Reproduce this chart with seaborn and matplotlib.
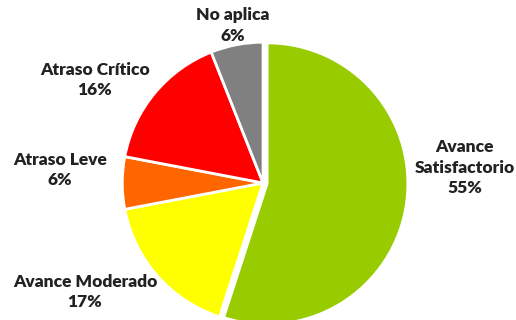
import matplotlib
matplotlib.use("Agg")
import matplotlib.pyplot as plt
import seaborn as sns

# data
categories = ["Avance\nSatisfactorio", "Avance Moderado", "Atraso Leve", "Atraso Crítico", "No aplica"]
values = [55, 17, 6, 16, 6]
colors = ["#99CC00", "#FFFF00", "#FF6600", "#FF0000", "#808080"]

sns.set_style("white")
plt.rcParams["font.family"] = ["Lato", "DejaVu Sans"]

fig = plt.figure(figsize=(5.16, 3.2), dpi=100)
ax = fig.add_axes([0, 0, 1, 1])

wedges, _ = ax.pie(values, colors=colors, startangle=90, counterclock=False,
                   explode=[0.03, 0, 0, 0, 0], radius=1.02,
                   wedgeprops=dict(edgecolor="white", linewidth=2))

# label positions (layout only)
label_pos = [(1.46, 0.11), (-1.29, -0.79), (-1.47, 0.094), (-1.22, 0.746), (-0.22, 1.14)]
for cat, v, (x, y) in zip(categories, values, label_pos):
    ax.text(x, y, f"{cat}\n{v}%", ha="center", va="center", fontsize=12.5,
            fontweight="heavy", color="#222222", linespacing=1.35)

ax.set_xlim(-1.906, 1.833)
ax.set_ylim(-0.993, 1.326)
ax.set_aspect("equal")
ax.axis("off")

fig.savefig("out.png", dpi=100)
